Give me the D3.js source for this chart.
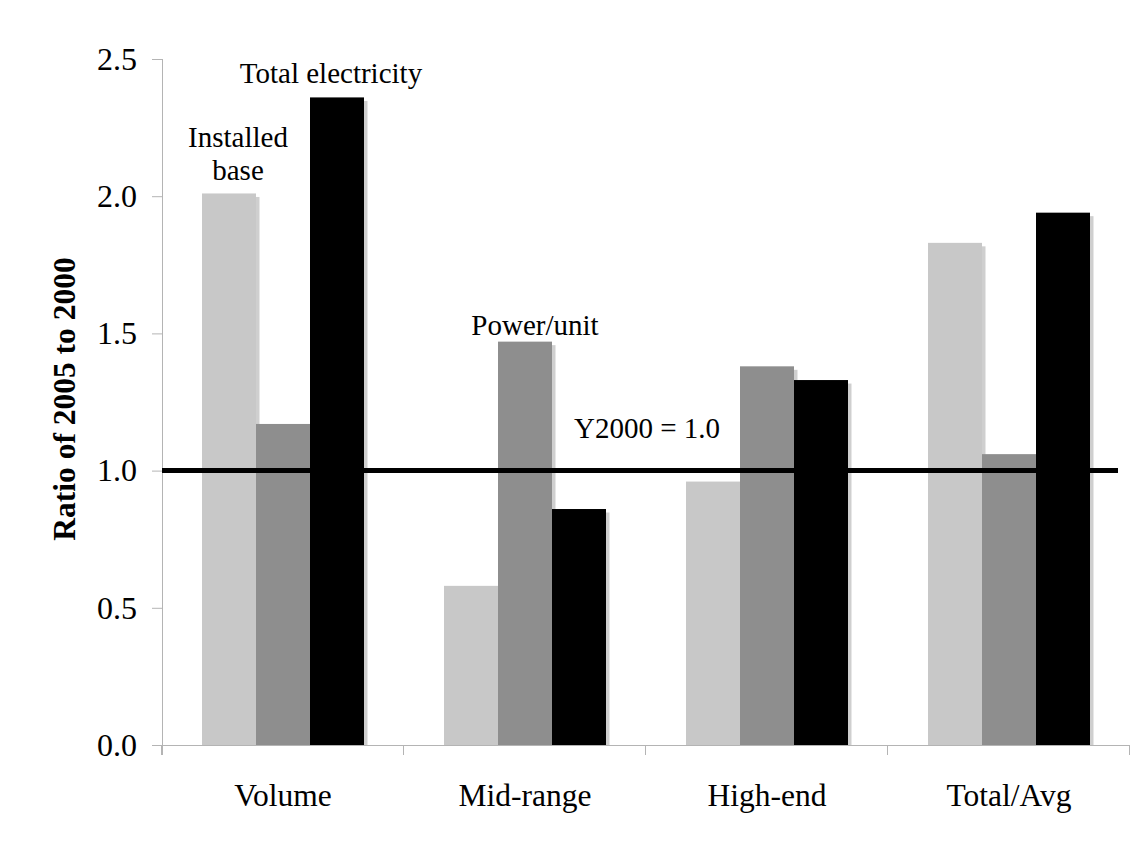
<!DOCTYPE html>
<html>
<head>
<meta charset="utf-8">
<script src="https://cdn.jsdelivr.net/npm/d3@7"></script>
<style>
  html, body { margin: 0; padding: 0; background: #fff; }
  svg { display: block; }
</style>
</head>
<body>
<svg id="chart" width="1140" height="842"></svg>
<script>
// ---- data ----
const categories = ["Volume", "Mid-range", "High-end", "Total/Avg"];
const seriesNames = ["Installed base", "Power/unit", "Total electricity"];
const installedBase = [2.01, 0.58, 0.96, 1.83];
const powerPerUnit = [1.17, 1.47, 1.38, 1.06];
const totalElectricity = [2.36, 0.86, 1.33, 1.94];
const yTicks = [0.0, 0.5, 1.0, 1.5, 2.0, 2.5];
const referenceValue = 1.0;
const referenceLabel = "Y2000 = 1.0";
const yTitle = "Ratio of 2005 to 2000";

const seriesValues = [installedBase, powerPerUnit, totalElectricity];
const colors = ["#c8c8c8", "#8e8e8e", "#000000"];
const FONT = "'Liberation Serif', 'Times New Roman', 'DejaVu Serif', serif";

const svg = d3.select("#chart");
const plot = { left: 162, right: 1130, top: 59, bottom: 745 };

const y = d3.scaleLinear().domain([0, 2.5]).range([plot.bottom, plot.top]);
const x0 = d3.scaleBand().domain(categories).range([plot.left, plot.right])
  .paddingInner(80 / 242).paddingOuter(40 / 242);
const x1 = d3.scaleBand().domain(d3.range(seriesNames.length)).range([0, x0.bandwidth()]).padding(0);

// axes
const axisColor = "#b4b4b4";
const yAxis = svg.append("g").attr("transform", `translate(${plot.left},0)`)
  .call(d3.axisLeft(y).tickValues(yTicks).tickFormat(d3.format(".1f")).tickSize(10).tickPadding(15));
yAxis.attr("font-family", null).attr("font-size", null);
yAxis.select(".domain").remove();
yAxis.selectAll(".tick line").attr("stroke", axisColor);
yAxis.selectAll(".tick text").style("font-family", FONT).style("font-size", "32px").attr("fill", "#000");
svg.append("line").attr("x1", plot.left + 0.5).attr("x2", plot.left + 0.5)
  .attr("y1", plot.top).attr("y2", plot.bottom + 10).attr("stroke", axisColor);

// x axis line and boundary ticks
svg.append("line").attr("x1", plot.left).attr("x2", plot.right)
  .attr("y1", plot.bottom + 0.5).attr("y2", plot.bottom + 0.5).attr("stroke", axisColor);
const step = x0.step();
const bounds = d3.range(categories.length + 1).map(i => x0(categories[0]) - x0.paddingOuter() * step + i * step);
svg.append("g").selectAll("line").data(bounds).join("line")
  .attr("x1", d => Math.round(d) - 0.5).attr("x2", d => Math.round(d) - 0.5)
  .attr("y1", plot.bottom).attr("y2", plot.bottom + 10).attr("stroke", axisColor);

// category labels
svg.append("g").selectAll("text").data(categories).join("text")
  .attr("x", d => x0(d) + x0.bandwidth() / 2)
  .attr("y", 806)
  .attr("text-anchor", "middle")
  .style("font-family", FONT)
  .style("font-size", "31.5px")
  .text(d => d);

// bars
const rows = categories.map((c, i) => ({ cat: c, vals: seriesValues.map((s, j) => ({ j, v: s[i] })) }));
const groups = svg.append("g").selectAll("g").data(rows).join("g")
  .attr("transform", d => `translate(${x0(d.cat)},0)`);
// shadows
groups.selectAll("rect.shadow").data(d => d.vals).join("rect").attr("class", "shadow")
  .attr("x", d => x1(d.j) + 3.5).attr("y", d => y(d.v) + 3.5)
  .attr("width", x1.bandwidth()).attr("height", d => y(0) - y(d.v) - 3.5)
  .attr("fill", "#cfcfcf");
groups.selectAll("rect.bar").data(d => d.vals).join("rect").attr("class", "bar")
  .attr("x", d => x1(d.j)).attr("y", d => y(d.v))
  .attr("width", x1.bandwidth()).attr("height", d => y(0) - y(d.v))
  .attr("fill", d => colors[d.j]);

// reference line
svg.append("line").attr("x1", plot.left).attr("x2", 1118)
  .attr("y1", y(referenceValue)).attr("y2", y(referenceValue))
  .attr("stroke", "#000").attr("stroke-width", 5);

// annotations
const ann = svg.append("g").attr("text-anchor", "middle");
function note(x, yy, t) {
  ann.append("text").attr("x", x).attr("y", yy)
    .style("font-family", FONT).style("font-size", "29px").text(t);
}
note(238, 147, "Installed");
note(238, 180, "base");
note(331, 83, seriesNames[2]);
note(535, 335, seriesNames[1]);
note(647, 438, referenceLabel);

// y title
svg.append("text")
  .attr("transform", "translate(75,399) rotate(-90)")
  .attr("text-anchor", "middle")
  .style("font-family", FONT)
  .style("font-size", "31.5px").style("font-weight", "bold")
  .text(yTitle);
</script>
</body>
</html>
